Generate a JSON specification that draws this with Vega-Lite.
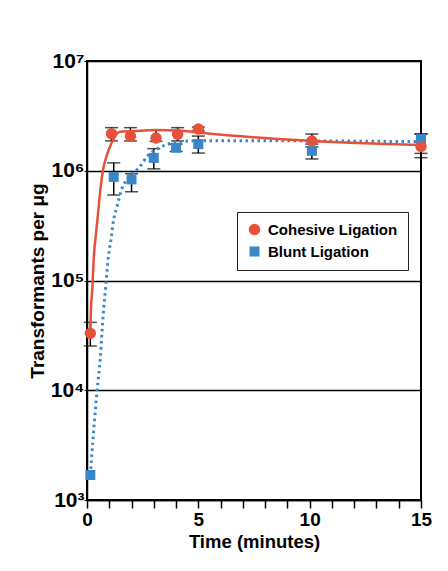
{
  "$schema": "https://vega.github.io/schema/vega-lite/v6.json",
  "width": 334,
  "height": 439,
  "autosize": {"type": "none"},
  "padding": {"left": 87, "top": 61, "right": 27, "bottom": 71},
  "background": "white",
  "config": {
    "font": "Liberation Sans",
    "view": {"stroke": "black", "strokeWidth": 2},
    "legend": {
      "labelFont": "Liberation Sans",
      "labelFontSize": 15,
      "labelFontWeight": "bold",
      "labelColor": "black",
      "strokeColor": "#222",
      "fillColor": "white",
      "padding": 10,
      "rowPadding": 6,
      "symbolSize": 140,
      "symbolStrokeWidth": 0,
      "labelOffset": 6
    }
  },
  "datasets": {
    "points": [
      {"series": "Blunt Ligation", "t": 0.15, "v": 1690},
      {"series": "Blunt Ligation", "t": 1.2, "v": 879000, "lo": 601000, "hi": 1180000},
      {"series": "Blunt Ligation", "t": 2.0, "v": 834000, "lo": 644000, "hi": 940000},
      {"series": "Blunt Ligation", "t": 3.0, "v": 1310000, "lo": 1040000, "hi": 1590000},
      {"series": "Blunt Ligation", "t": 4.0, "v": 1620000, "lo": 1500000, "hi": 1750000},
      {"series": "Blunt Ligation", "t": 5.0, "v": 1750000, "lo": 1450000, "hi": 2070000},
      {"series": "Blunt Ligation", "t": 10.1, "v": 1520000, "lo": 1280000, "hi": 1650000},
      {"series": "Blunt Ligation", "t": 15.0, "v": 1940000, "lo": 1440000, "hi": 2160000},
      {"series": "Cohesive Ligation", "t": 0.15, "v": 33000, "lo": 25300, "hi": 41600},
      {"series": "Cohesive Ligation", "t": 1.1, "v": 2180000, "lo": 1870000, "hi": 2470000},
      {"series": "Cohesive Ligation", "t": 1.95, "v": 2060000, "lo": 1870000, "hi": 2470000},
      {"series": "Cohesive Ligation", "t": 3.1, "v": 1990000, "lo": 1850000, "hi": 2340000},
      {"series": "Cohesive Ligation", "t": 4.07, "v": 2150000, "lo": 1870000, "hi": 2470000},
      {"series": "Cohesive Ligation", "t": 5.0, "v": 2400000, "lo": 2300000, "hi": 2500000},
      {"series": "Cohesive Ligation", "t": 10.1, "v": 1870000, "lo": 1750000, "hi": 2160000},
      {"series": "Cohesive Ligation", "t": 15.0, "v": 1660000, "lo": 1315000, "hi": 2160000}
    ],
    "curves": [
      {"series": "Cohesive Ligation", "t": 0.153, "v": 33000},
      {"series": "Cohesive Ligation", "t": 0.166, "v": 46800},
      {"series": "Cohesive Ligation", "t": 0.243, "v": 87700},
      {"series": "Cohesive Ligation", "t": 0.315, "v": 175000},
      {"series": "Cohesive Ligation", "t": 0.391, "v": 251000},
      {"series": "Cohesive Ligation", "t": 0.467, "v": 356000},
      {"series": "Cohesive Ligation", "t": 0.539, "v": 505000},
      {"series": "Cohesive Ligation", "t": 0.616, "v": 716000},
      {"series": "Cohesive Ligation", "t": 0.719, "v": 1016000},
      {"series": "Cohesive Ligation", "t": 0.872, "v": 1343000},
      {"series": "Cohesive Ligation", "t": 1.097, "v": 1778000},
      {"series": "Cohesive Ligation", "t": 1.47, "v": 2270000},
      {"series": "Cohesive Ligation", "t": 2.07, "v": 2300000},
      {"series": "Cohesive Ligation", "t": 3.09, "v": 2350000},
      {"series": "Cohesive Ligation", "t": 4.08, "v": 2330000},
      {"series": "Cohesive Ligation", "t": 5.08, "v": 2220000},
      {"series": "Cohesive Ligation", "t": 10.1, "v": 1870000},
      {"series": "Cohesive Ligation", "t": 15.0, "v": 1720000},
      {"series": "Blunt Ligation", "t": 0.153, "v": 1690},
      {"series": "Blunt Ligation", "t": 0.198, "v": 2310},
      {"series": "Blunt Ligation", "t": 0.315, "v": 4660},
      {"series": "Blunt Ligation", "t": 0.449, "v": 9700},
      {"series": "Blunt Ligation", "t": 0.602, "v": 20200},
      {"series": "Blunt Ligation", "t": 0.719, "v": 46800},
      {"series": "Blunt Ligation", "t": 0.84, "v": 87700},
      {"series": "Blunt Ligation", "t": 0.944, "v": 154000},
      {"series": "Blunt Ligation", "t": 1.097, "v": 254000},
      {"series": "Blunt Ligation", "t": 1.169, "v": 332000},
      {"series": "Blunt Ligation", "t": 1.348, "v": 470000},
      {"series": "Blunt Ligation", "t": 1.546, "v": 668000},
      {"series": "Blunt Ligation", "t": 1.919, "v": 883000},
      {"series": "Blunt Ligation", "t": 2.369, "v": 1089000},
      {"series": "Blunt Ligation", "t": 2.742, "v": 1380000},
      {"series": "Blunt Ligation", "t": 3.119, "v": 1567000},
      {"series": "Blunt Ligation", "t": 4.018, "v": 1816000},
      {"series": "Blunt Ligation", "t": 5.08, "v": 1879000},
      {"series": "Blunt Ligation", "t": 10.1, "v": 1870000},
      {"series": "Blunt Ligation", "t": 15.0, "v": 1840000}
    ]
  },
  "encoding": {
    "x": {
      "field": "t",
      "type": "quantitative",
      "scale": {"domain": [0, 15], "nice": false},
      "axis": {
        "title": "Time (minutes)",
        "values": [0, 1, 2, 3, 4, 5, 6, 7, 8, 9, 10, 11, 12, 13, 14, 15],
        "labelExpr": "datum.value % 5 == 0 ? datum.label : ''",
        "grid": false,
        "domainColor": "black",
        "domainWidth": 1.5,
        "tickColor": "black",
        "tickWidth": 1.5,
        "tickSize": 8,
        "labelFlush": false,
        "labelOverlap": false,
        "labelFontSize": 19,
        "labelFontWeight": "bold",
        "labelColor": "black",
        "labelPadding": 2,
        "titleFontSize": 18.5,
        "titleFontWeight": "bold",
        "titleColor": "black",
        "titlePadding": 3
      }
    },
    "y": {
      "field": "v",
      "type": "quantitative",
      "scale": {"type": "log", "domain": [1000, 10000000], "nice": false},
      "axis": {
        "title": "Transformants per μg",
        "values": [1000, 10000, 100000, 1000000, 10000000],
        "labelExpr": "'10' + ['⁰','¹','²','³','⁴','⁵','⁶','⁷'][round(log(datum.value)/LN10)]",
        "grid": true,
        "gridColor": "black",
        "gridWidth": 1.5,
        "gridOpacity": 1,
        "domainColor": "black",
        "domainWidth": 1.5,
        "tickColor": "black",
        "tickWidth": 1,
        "tickSize": 3,
        "labelFlush": false,
        "labelOverlap": false,
        "labelFontSize": 21,
        "labelFontWeight": "bold",
        "labelColor": "black",
        "labelPadding": 0,
        "titleFontSize": 19,
        "titleFontWeight": "bold",
        "titleColor": "black",
        "titlePadding": 3
      }
    }
  },
  "layer": [
    {
      "data": {"name": "points"},
      "mark": {"type": "point", "filled": true, "opacity": 0},
      "encoding": {}
    },
    {
      "data": {"name": "points"},
      "transform": [{"filter": "isValid(datum.lo)"}],
      "mark": {
        "type": "errorbar",
        "ticks": {"size": 13, "thickness": 1.5, "color": "black"},
        "rule": {"strokeWidth": 1.5, "color": "black"}
      },
      "encoding": {
        "y": {
          "field": "lo",
          "type": "quantitative",
          "scale": {"type": "log", "domain": [1000, 10000000], "nice": false},
          "axis": {
            "title": "Transformants per μg",
            "values": [1000, 10000, 100000, 1000000, 10000000],
            "labelExpr": "'10' + ['⁰','¹','²','³','⁴','⁵','⁶','⁷'][round(log(datum.value)/LN10)]",
            "grid": true,
            "gridColor": "black",
            "gridWidth": 1.5,
            "gridOpacity": 1,
            "domainColor": "black",
            "domainWidth": 1.5,
            "tickColor": "black",
            "tickWidth": 1,
            "tickSize": 3,
            "labelFlush": false,
            "labelOverlap": false,
            "labelFontSize": 21,
            "labelFontWeight": "bold",
            "labelColor": "black",
            "labelPadding": 0,
            "titleFontSize": 19,
            "titleFontWeight": "bold",
            "titleColor": "black",
            "titlePadding": 3
          }
        },
        "y2": {"field": "hi"}
      }
    },
    {
      "data": {"name": "points"},
      "mark": {"type": "point", "filled": true, "opacity": 1},
      "encoding": {
        "color": {
          "field": "series",
          "type": "nominal",
          "scale": {"domain": ["Cohesive Ligation", "Blunt Ligation"], "range": ["#E8503A", "#3A87C8"]},
          "legend": {"orient": "none", "legendX": 150, "legendY": 151, "title": null}
        },
        "shape": {
          "field": "series",
          "type": "nominal",
          "scale": {"domain": ["Cohesive Ligation", "Blunt Ligation"], "range": ["circle", "square"]},
          "legend": {"orient": "none", "legendX": 150, "legendY": 151, "title": null}
        },
        "size": {
          "field": "series",
          "type": "nominal",
          "scale": {"domain": ["Cohesive Ligation", "Blunt Ligation"], "range": [130, 100]},
          "legend": null
        }
      }
    },
    {
      "data": {"name": "curves"},
      "transform": [{"filter": "datum.series == 'Blunt Ligation'"}],
      "mark": {"type": "line", "color": "#3A87C8", "strokeWidth": 3, "strokeDash": [2.5, 3.5], "interpolate": "monotone"},
      "encoding": {}
    },
    {
      "data": {"name": "curves"},
      "transform": [{"filter": "datum.series == 'Cohesive Ligation'"}],
      "mark": {"type": "line", "color": "#E8503A", "strokeWidth": 2.5, "interpolate": "monotone"},
      "encoding": {}
    }
  ]
}
